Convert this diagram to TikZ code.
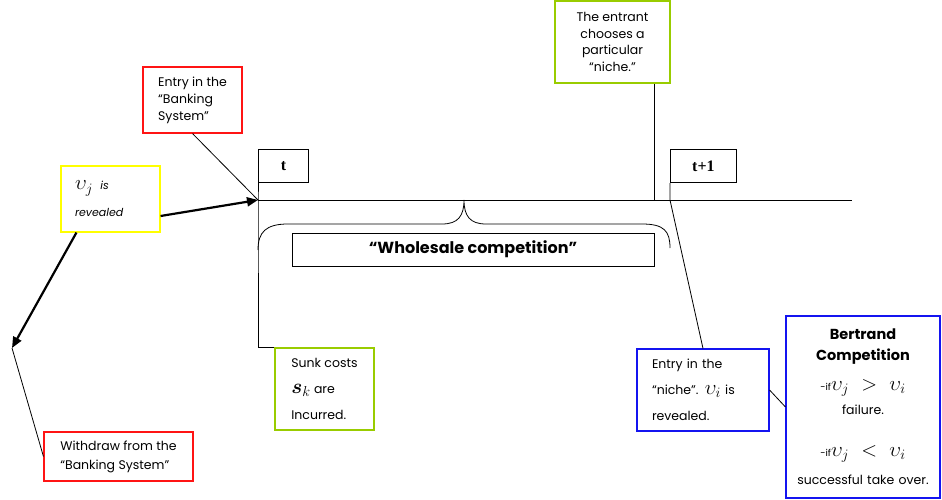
\documentclass[tikz,border=0pt]{standalone}
\usepackage{bm}
\usepackage{fontspec}
\setmainfont{Poppins}
\newfontfamily\serifbold{Liberation Serif}
\usetikzlibrary{arrows.meta,positioning,calc}

\newcommand{\bigmath}[1]{{\fontsize{21}{21}\selectfont$#1$}}

\begin{document}
\begin{tikzpicture} [x=1pt, y=-1pt,
note/.style     = { rectangle, draw=#1, line width=1.1pt, align=left,
    font=\fontsize{12.5}{17}\selectfont },
tmark/.style    = { rectangle, draw=black, line width=0.9pt,
    minimum height=33pt, font=\fontsize{16}{16}\serifbold\bfseries },
phase/.style    = { rectangle, draw=black, line width=0.9pt,
    minimum height=33pt, font=\fontsize{16}{16}\selectfont\bfseries },
line/.style     = { draw, line width=0.8pt },
bigarrow/.style = { draw, line width=2.2pt, -{Triangle[length=11pt,width=9pt]} },
]
\definecolor{boxred}{RGB}{255,20,20}
\definecolor{boxyellow}{RGB}{255,255,0}
\definecolor{boxgreen}{RGB}{153,204,0}
\definecolor{boxblue}{RGB}{20,20,240}

\useasboundingbox (0,0) rectangle (942,500);

% points on the time axis
\coordinate (start) at (258,200);
\coordinate (stop)  at (852,200);
\coordinate (pick)  at (654,200);
\coordinate (next)  at (670,200);
\coordinate (bend)  at (12,348);

\node[tmark, minimum width=50pt, above right=17pt and 0pt of start] (t) {t};
\node[tmark, minimum width=66pt, above right=17pt and 0pt of next] (t1) {t+1};

\node[note=boxred, minimum width=99pt, minimum height=66pt] (entry) at (192.5,100)
    {Entry in the\\“Banking\\System”};
\node[note=boxyellow, text width=71pt, inner xsep=14pt, minimum height=66pt,
    font=\fontsize{11}{27}\selectfont\itshape] (reveal) at (110.5,199)
    {\bigmath{\upsilon_j}\ \ is\\revealed};
\node[note=boxgreen, minimum width=115pt, minimum height=82pt, align=center,
    font=\fontsize{12.5}{16.7}\selectfont] (niche) at (612.5,42)
    {The entrant\\chooses a\\particular\\“niche.”};
\node[phase, minimum width=362pt] (whole) at (473,249.5) {“Wholesale competition”};
\node[note=boxgreen, minimum width=99pt, minimum height=82pt,
    font=\fontsize{12.5}{26}\selectfont] (sunk) at (324.5,389)
    {Sunk costs\\{\fontsize{20}{20}\selectfont$\bm{s}_k$} are\\Incurred.};
\node[note=boxblue, text width=102pt, inner xsep=15pt, minimum height=82pt,
    font=\fontsize{12.5}{26}\selectfont] (nicheentry) at (703,390)
    {Entry in the\\“niche”. \bigmath{\upsilon_i} is\\revealed.};
\node[note=boxblue, text width=142pt, inner xsep=6pt, minimum height=182pt,
    align=center] (bertrand) at (863,407)
    {{\bfseries\fontsize{14.5}{17}\selectfont Bertrand\\[4pt] Competition}\\[13pt]
     {\fontsize{9.5}{17}\selectfont -if}\bigmath{\upsilon_j > \upsilon_i}\hspace*{\fill}\\[7pt]
     failure.\\[25pt]
     {\fontsize{9.5}{17}\selectfont -if}\bigmath{\upsilon_j < \upsilon_i}\hspace*{\fill}\\[11pt]
     successful take over.};
\node[note=boxred, minimum width=149pt, minimum height=49pt,
    font=\fontsize{12.5}{19}\selectfont] (withdraw) at (118.5,456.5)
    {Withdraw from the\\“Banking System”};

% brace over the wholesale period
\draw[line width=0.8pt] (258,250) .. controls (258,232) and (266,224) .. (288,224)
    -- (442,224) .. controls (458,224) and (464,216) .. (464,200)
    .. controls (464,216) and (470,224) .. (486,224)
    -- (642,224) .. controls (664,224) and (670,231) .. (670,248);

% connect all nodes defined above
\begin{scope} [every path/.style=line]
\path (start) -- (stop);
\path (entry.south) -- (start);
\path (t.south west) -- (start) |- (sunk.north west);
\path (t1.south west) -- (next) -- (nicheentry.north);
\path (pick) -- (pick |- niche.south);
\path (nicheentry.east) -- (bertrand.west);
\path (bend) -- (withdraw.west);
\end{scope}
\draw[bigarrow] ([yshift=-17pt]reveal.east) -- (start);
\draw[bigarrow] ([xshift=16pt]reveal.south west) -- (bend);

\end{tikzpicture}
\end{document}
